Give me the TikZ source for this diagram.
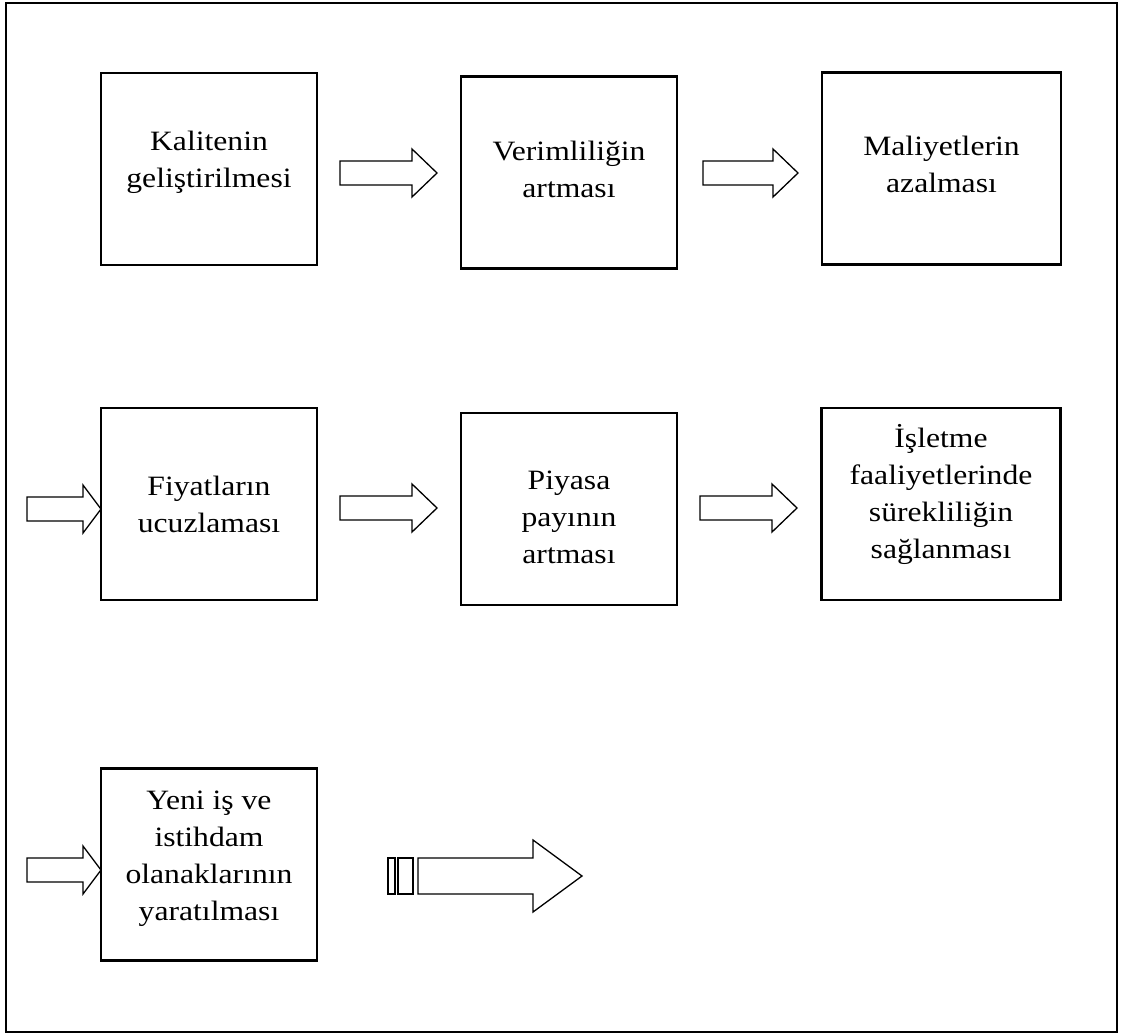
\documentclass[tikz,border=0pt]{standalone}
\usepackage{fontspec}
\setmainfont{Liberation Serif}[FakeStretch=1.13]
\usetikzlibrary{positioning}
\usetikzlibrary{calc}

\begin{document}
\begin{tikzpicture}[x=1pt,y=-1pt]

		\tikzset{box/.style = {draw, line width=2.2pt, minimum width=216pt, minimum height=192pt, inner sep=0pt}}
		\tikzset{box2/.style = {box, minimum width=239pt}}
		\tikzset{boxtext/.style = {align=center, inner sep=0pt, font=\fontsize{28}{37}\selectfont}}
		\tikzset{barrow/.style = {draw, line width=1.3pt, line join=miter}}
		\tikzset{pics/blockarrow/.style n args = {4}{code = {
			\draw[barrow] (0,-#3) -- ({#1-#2},-#3) -- ({#1-#2},-#4) -- (#1,0) -- ({#1-#2},#4) -- ({#1-#2},#3) -- (0,#3) -- cycle;}}}

		\useasboundingbox (0,0) rectangle (1121,1035);
		% frame
		\draw[line width=2.2pt] (6,3) rectangle (1117,1032);

		% boxes
		\node[box] (kalite) at (209,169) {};
		\node[box] (verim) at (569,172.5) {};
		\node[box2] (maliyet) at (941.5,168.5) {};
		\node[box] (fiyat) at (209,504) {};
		\node[box] (piyasa) at (569,509) {};
		\node[box2] (sureklilik) at (941,504) {};
		\node[box] (istihdam) at (209,864.5) {};

		% texts
		\node[boxtext, yshift=7pt] (kalite-t) at (kalite) {Kalitenin\\geliştirilmesi};
		\node[boxtext, yshift=3.5pt] (verim-t) at (verim) {Verimliliğin\\artması};
		\node[boxtext, yshift=4.5pt] (maliyet-t) at (maliyet) {Maliyetlerin\\azalması};
		\node[boxtext] (fiyat-t) at (fiyat) {Fiyatların\\ucuzlaması};
		\node[boxtext, yshift=-8.5pt] (piyasa-t) at (piyasa) {Piyasa\\payının\\artması};
		\node[boxtext, yshift=10pt] (sureklilik-t) at (sureklilik) {İşletme\\faaliyetlerinde\\sürekliliğin\\sağlanması};
		\node[boxtext, yshift=5.5pt] (istihdam-t) at (istihdam) {Yeni iş ve\\istihdam\\olanaklarının\\yaratılması};

		% arrows
		\pic at (340,173) {blockarrow={97}{25}{12}{24}};
		\pic at (703,173) {blockarrow={95}{25}{12}{24}};
		\pic at (27,509) {blockarrow={74}{18}{12}{24}};
		\pic at (340,508) {blockarrow={97}{25}{12}{24}};
		\pic at (700,508) {blockarrow={97}{25}{12}{24}};
		\pic at (27,870) {blockarrow={74}{18}{12}{24}};

		% striped arrow
		\draw[barrow] (388,858) rectangle (395,894);
		\draw[barrow] (398,858) rectangle (413,894);
		\pic at (418,876) {blockarrow={164}{49}{18}{36}};

\end{tikzpicture}
\end{document}
